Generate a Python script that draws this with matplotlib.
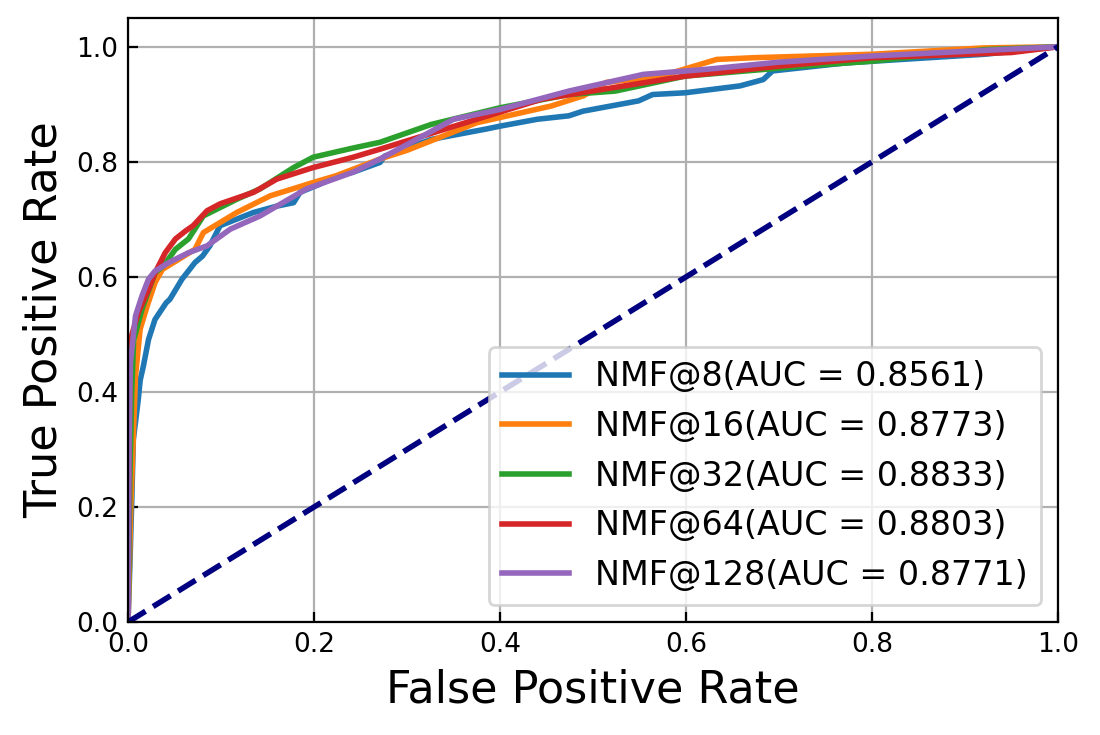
import matplotlib
matplotlib.use('Agg')
import matplotlib.pyplot as plt

# ROC points (false positive rate, true positive rate)
fpr_8 = [0, 0.002, 0.004, 0.0057, 0.011, 0.013, 0.0165, 0.022, 0.029, 0.041, 0.045, 0.058,
         0.072, 0.08, 0.088, 0.099, 0.135, 0.16, 0.178, 0.185, 0.206, 0.226, 0.242, 0.271,
         0.276, 0.326, 0.385, 0.4, 0.44, 0.474, 0.489, 0.549, 0.564, 0.599, 0.658, 0.683,
         0.693, 0.772, 0.802, 0.921, 1.0]
tpr_8 = [0, 0.10, 0.21, 0.317, 0.387, 0.42, 0.445, 0.491, 0.526, 0.555, 0.561, 0.596,
         0.625, 0.636, 0.654, 0.689, 0.712, 0.723, 0.729, 0.747, 0.761, 0.776, 0.782, 0.799,
         0.81, 0.839, 0.857, 0.862, 0.874, 0.88, 0.888, 0.906, 0.917, 0.920, 0.932, 0.943,
         0.958, 0.972, 0.975, 0.987, 1.0]

fpr_16 = [0, 0.003, 0.008, 0.013, 0.0205, 0.029, 0.037, 0.054, 0.072, 0.081, 0.117, 0.153,
          0.199, 0.224, 0.271, 0.30, 0.375, 0.455, 0.49, 0.514, 0.573, 0.633, 0.673, 0.8,
          0.92, 1.0]
tpr_16 = [0, 0.2, 0.427, 0.509, 0.549, 0.59, 0.613, 0.63, 0.648, 0.677, 0.712, 0.741,
          0.764, 0.776, 0.805, 0.82, 0.868, 0.897, 0.915, 0.938, 0.949, 0.978, 0.981, 0.987,
          0.998, 1.0]

fpr_32 = [0, 0.002, 0.004, 0.006, 0.015, 0.029, 0.038, 0.051, 0.065, 0.081, 0.117, 0.142,
          0.178, 0.199, 0.242, 0.271, 0.326, 0.4, 0.474, 0.524, 0.599, 0.723, 0.8, 0.921, 1.0]
tpr_32 = [0, 0.25, 0.40, 0.49, 0.544, 0.607, 0.619, 0.648, 0.666, 0.706, 0.735, 0.753,
          0.79, 0.808, 0.824, 0.834, 0.865, 0.894, 0.917, 0.923, 0.949, 0.966, 0.975, 0.995, 1.0]

fpr_64 = [0, 0.001, 0.0025, 0.011, 0.022, 0.029, 0.04, 0.051, 0.062, 0.07, 0.085, 0.099,
          0.135, 0.16, 0.199, 0.242, 0.271, 0.375, 0.445, 0.599, 0.698, 0.8, 0.95, 1.0]
tpr_64 = [0, 0.3, 0.49, 0.538, 0.578, 0.607, 0.642, 0.666, 0.68, 0.689, 0.715, 0.727,
          0.747, 0.77, 0.79, 0.808, 0.822, 0.874, 0.909, 0.949, 0.966, 0.981, 0.99, 1.0]

fpr_128 = [0, 0.001, 0.0025, 0.008, 0.015, 0.022, 0.029, 0.044, 0.065, 0.085, 0.11, 0.142,
           0.192, 0.242, 0.271, 0.3, 0.35, 0.4, 0.474, 0.554, 0.623, 0.698, 0.8, 1.0]
tpr_128 = [0, 0.3, 0.45, 0.532, 0.567, 0.596, 0.61, 0.625, 0.642, 0.654, 0.683, 0.706,
           0.753, 0.782, 0.805, 0.83, 0.874, 0.891, 0.923, 0.952, 0.961, 0.973, 0.984, 1.0]

labels = ['NMF@8(AUC = 0.8561)', 'NMF@16(AUC = 0.8773)', 'NMF@32(AUC = 0.8833)',
          'NMF@64(AUC = 0.8803)', 'NMF@128(AUC = 0.8771)']

fig = plt.figure(figsize=(5.5, 3.675), dpi=200)
ax = fig.add_axes([0.1164, 0.1537, 0.8455, 0.8218])

curves = [(fpr_8, tpr_8), (fpr_16, tpr_16), (fpr_32, tpr_32), (fpr_64, tpr_64), (fpr_128, tpr_128)]
for (x, y), lab in zip(curves, labels):
    ax.plot(x, y, lw=2, label=lab)

ax.plot([0, 1], [0, 1], color='navy', lw=2, linestyle='--')

ax.set_xlim(0.0, 1.0)
ax.set_ylim(0.0, 1.05)
ax.set_xlabel('False Positive Rate', fontsize=16)
ax.set_ylabel('True Positive Rate', fontsize=16)
ax.tick_params(direction='in', labelsize=9.5)
ax.grid(True)
ax.legend(loc='lower right', fontsize=12)

fig.savefig('out.png', dpi=200)
